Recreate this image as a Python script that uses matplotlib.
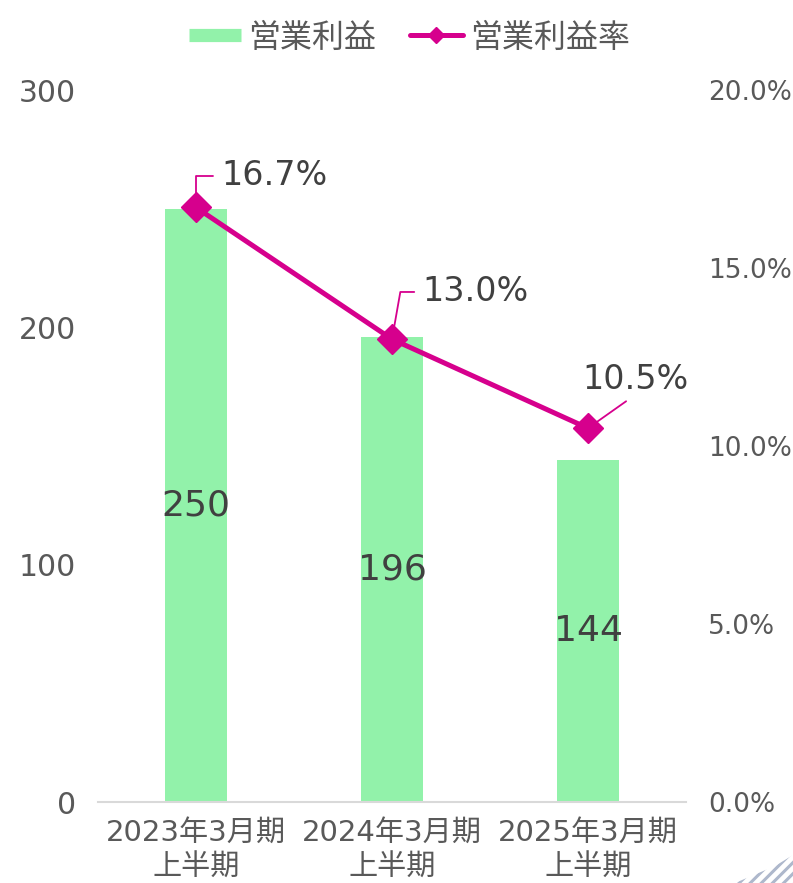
import matplotlib.pyplot as plt
from matplotlib.lines import Line2D
from matplotlib.patches import Polygon

plt.rcParams['font.family'] = ['DejaVu Sans', 'Noto Sans CJK JP']
plt.rcParams['hatch.linewidth'] = 2.2

categories = ["2023年3月期\n上半期", "2024年3月期\n上半期", "2025年3月期\n上半期"]
operating_profit = [250, 196, 144]
profit_margin = [16.7, 13.0, 10.5]
margin_labels = ["16.7%", "13.0%", "10.5%"]

bar_color = "#92F2AA"
line_color = "#D6008D"
tick_color = "#595959"
label_color = "#404040"

fig = plt.figure(figsize=(7.93, 8.83), dpi=100)
ax = fig.add_axes([98 / 793, 81 / 883, 588 / 793, 712 / 883])
ax2 = ax.twinx()

x = list(range(len(categories)))
ax.bar(x, operating_profit, width=0.315, color=bar_color, zorder=2)
for xi, v in zip(x, operating_profit):
    ax.text(xi, v / 2, str(v), ha="center", va="center", fontsize=26, color=label_color)

ax.set_xlim(-0.5, 2.5)
ax.set_ylim(0, 300)
ax.set_yticks([0, 100, 200, 300])
ax.set_xticks(x)
ax.set_xticklabels(categories, fontsize=21, color=tick_color, linespacing=1.3)
ax.tick_params(axis="y", length=0, labelsize=21.5, labelcolor=tick_color, pad=16)
ax.tick_params(axis="x", length=0, labelcolor=tick_color, pad=12)
for side in ["top", "right", "left"]:
    ax.spines[side].set_visible(False)
ax.spines["bottom"].set_color("#D9D9D9")
ax.spines["bottom"].set_linewidth(1.5)

ax2.plot(x, profit_margin, color=line_color, linewidth=3.6, marker="D",
         markersize=15, zorder=3)
ax2.set_ylim(0, 20)
ax2.set_yticks([0, 5, 10, 15, 20])
ax2.set_yticklabels([f"{t:.1f}%" for t in [0, 5, 10, 15, 20]])
ax2.tick_params(axis="y", length=0, labelsize=19, labelcolor=tick_color, pad=16)
for side in ["top", "right", "left", "bottom"]:
    ax2.spines[side].set_visible(False)

# margin labels with leader lines (offsets in points from the marker)
ax2.annotate(margin_labels[0], xy=(x[0], profit_margin[0]), xytext=(18, 23),
             textcoords="offset points", fontsize=24, color=label_color,
             ha="left", va="center",
             arrowprops=dict(arrowstyle="-", color=line_color, lw=1.3, relpos=(0, 0.5),
                             connectionstyle="angle,angleA=0,angleB=90,rad=0",
                             shrinkA=4, shrinkB=10))
ax2.annotate(margin_labels[1], xy=(x[1], profit_margin[1]), xytext=(22, 34),
             textcoords="offset points", fontsize=24, color=label_color,
             ha="left", va="center",
             arrowprops=dict(arrowstyle="-", color=line_color, lw=1.3, relpos=(0, 0.5),
                             connectionstyle="angle,angleA=0,angleB=80,rad=0",
                             shrinkA=4, shrinkB=10))
ax2.annotate(margin_labels[2], xy=(x[2], profit_margin[2]), xytext=(-4, 35),
             textcoords="offset points", fontsize=24, color=label_color,
             ha="left", va="center",
             arrowprops=dict(arrowstyle="-", color=line_color, lw=1.3, relpos=(0.48, 0),
                             shrinkA=3, shrinkB=6))

handles = [
    Line2D([], [], color=bar_color, linewidth=9.5, solid_capstyle="butt"),
    Line2D([], [], color=line_color, linewidth=3.6, marker="D", markersize=8,
           solid_capstyle="round"),
]
fig.legend(handles, ["営業利益", "営業利益率"], loc="center",
           bbox_to_anchor=(0.516, 1 - 38 / 883), ncol=2, frameon=False, fontsize=23,
           labelcolor=tick_color, handlelength=1.65, handletextpad=0.22,
           columnspacing=1.05)

# corner decoration
deco = Polygon([(735 / 793, 0), (1, 0), (1, 28 / 883), (775 / 793, 17 / 883)],
               closed=True, transform=fig.transFigure, fill=False, hatch="///",
               edgecolor="#AEB8CC", linewidth=0)
fig.patches.append(deco)

fig.savefig("out.png", dpi=100)
